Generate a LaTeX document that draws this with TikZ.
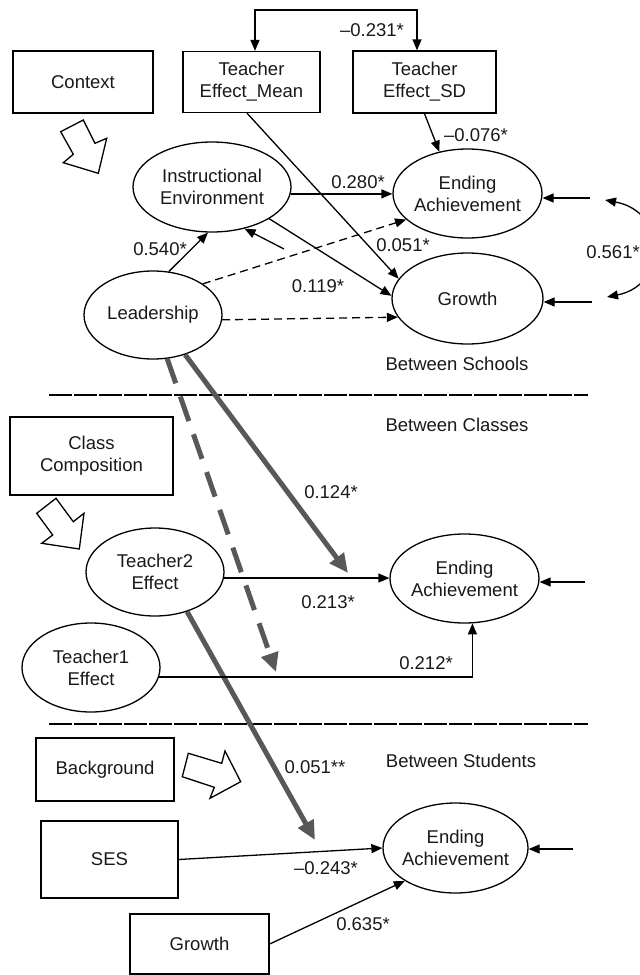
\documentclass[tikz,border=0pt]{standalone}
\usepackage{fontspec}
\setmainfont{Liberation Sans}
\usetikzlibrary{shapes.geometric,arrows.meta}
\definecolor{thickgray}{RGB}{88,88,88}
\definecolor{ink}{RGB}{25,25,25}
\begin{document}
\begin{tikzpicture}[x=1pt,y=-1pt,
  font=\fontsize{18.5}{22}\selectfont,
  every node/.style={text=ink},
  box/.style={draw=black,line width=1.3pt,align=center,inner sep=0pt},
  oval/.style={draw=black,ellipse,line width=1.3pt,align=center,inner xsep=-12pt,inner ysep=0pt},
  arr/.style={line width=1.3pt,-{Triangle[length=11pt,width=9pt]}},
  dblarr/.style={line width=1.3pt,{Triangle[length=11pt,width=9pt]}-{Triangle[length=11pt,width=9pt]}},
  darr/.style={arr,dash pattern=on 8pt off 5pt},
  big/.style={draw=thickgray,line width=5pt,-{Triangle[length=19pt,width=17pt]}},
  sep/.style={line width=1.6pt,dash pattern=on 23pt off 2pt},
  hollow/.style={draw=black,line width=1.3pt,fill=white,line join=miter},
  lab/.style={inner sep=0pt}]
\useasboundingbox (0,0) rectangle (640,975);
\fill[white] (0,0) rectangle (640,975);
\clip (0,0) rectangle (640,975);

% boxes
\node[box,minimum width=140pt,minimum height=62pt] (ctx) at (83,82) {Context};
\node[box,minimum width=137pt,minimum height=61pt] (mean) at (251.5,82) {Teacher\\Effect\_Mean};
\node[box,minimum width=143pt,minimum height=62pt] (sd) at (424.5,82) {Teacher\\Effect\_SD};
\node[box,minimum width=163pt,minimum height=78pt] (cc) at (91.5,456) {Class\\Composition};
\node[box,minimum width=138pt,minimum height=63pt] (bg) at (105,769.5) {Background};
\node[box,minimum width=137pt,minimum height=77pt] (ses) at (109.5,859.5) {SES};
\node[box,minimum width=139pt,minimum height=60pt] (gb) at (199.5,944) {Growth};

% ellipses
\node[oval,minimum width=158pt,minimum height=90pt] (ie) at (212,187) {Instructional\\Environment};
\node[oval,minimum width=149pt,minimum height=89pt] (eas) at (467.5,193.5) {Ending\\Achievement};
\node[oval,minimum width=151pt,minimum height=91pt] (gr) at (467.5,298.5) {Growth};
\node[oval,minimum width=138pt,minimum height=88pt] (lead) at (153,315) {Leadership};
\node[oval,minimum width=138pt,minimum height=88pt] (t2) at (155,572) {Teacher2\\Effect};
\node[oval,minimum width=149pt,minimum height=89pt] (eac) at (464.5,578.5) {Ending\\Achievement};
\node[oval,minimum width=138pt,minimum height=89pt] (t1) at (91,667.5) {Teacher1\\Effect};
\node[oval,minimum width=145pt,minimum height=90pt] (east) at (455.5,848) {Ending\\Achievement};

% block arrows
\draw[hollow] (60.7,131.7) -- (83.3,120) -- (95,143.3) -- (106.7,138.3) -- (98.3,173.3) -- (63.3,162.7) -- (73.3,154.3) -- cycle;
\draw[hollow] (36.7,513.3) -- (56,498.3) -- (73.3,521.7) -- (84,513.3) -- (79.3,549) -- (41.7,543.3) -- (52.7,535) -- cycle;
\draw[hollow] (182.3,776.7) -- (188.3,753.3) -- (221.7,763.3) -- (225,751) -- (240.7,781.7) -- (210,798.3) -- (214.3,787.3) -- cycle;

% separators
\draw[sep] (49,395) -- (588,395);
\draw[sep] (49,724) -- (588,724);

% free-end coordinates
\coordinate (rie) at (284,249);
\coordinate (reas) at (590,198);
\coordinate (rgr) at (592,302);
\coordinate (reac) at (585,582);
\coordinate (reast) at (573,849);
\coordinate (ca) at (605,200);
\coordinate (cb) at (607,297);
\coordinate (m1) at (348,573);
\coordinate (m2) at (276,672);
\coordinate (m3) at (315,840);

% school level connectors
\draw[dblarr] ([xshift=3.5pt]mean.north) -- ++(0,-41) -| ([xshift=-7.5pt]sd.north);
\draw[arr] (sd.south) -- (eas.124);
\draw[arr] ([xshift=-4.5pt]mean.south) -- (gr.164);
\draw[arr] (ie.-5) -- (ie.-5 -| eas.west);
\draw[arr] (ie.-29) -- (gr.178);
\draw[arr] (lead.70) -- (ie.265);
\draw[arr] (rie) -- (ie.-52);
\draw[darr] (lead.32) -- (eas.203);
\draw[darr] (lead.-4) -- (gr.195);
\draw[arr] (reas) -- (reas -| eas.east);
\draw[arr] (rgr) -- (rgr -| gr.east);
\draw[dblarr] (ca) .. controls (668,212) and (668,285) .. (cb);

% thick moderation arrows
\draw[big] (lead.-51) -- (m1);
\draw[big,dash pattern=on 26pt off 14pt] (lead.-72) -- (m2);
\draw[big] (t2.-51) -- (m3);

% class level
\draw[arr] (t2.-5) -- (t2.-5 -| eac.west);
\draw[arr] (t1.-8) -| (eac.-80);
\draw[arr] (reac) -- (reac -| eac.east);

% student level
\draw[arr] (ses.east) -- (east.west);
\draw[arr] (gb.east) -- (east.213);
\draw[arr] (reast) -- (reast -| east.east);

% labels
\node[lab] (l1) at (372,30) {–0.231*};
\node[lab] (l2) at (476,135) {–0.076*};
\node[lab] (l3) at (358,182) {0.280*};
\node[lab] (l4) at (403,245) {0.051*};
\node[lab] (l5) at (318,286) {0.119*};
\node[lab] (l6) at (160,249) {0.540*};
\node[lab] (l7) at (613,252) {0.561*};
\node[lab] (l8) at (457,364) {Between Schools};
\node[lab] (l9) at (457,425) {Between Classes};
\node[lab] (l10) at (331,492) {0.124*};
\node[lab] (l11) at (328,602) {0.213*};
\node[lab] (l12) at (426,663) {0.212*};
\node[lab] (l13) at (461,761) {Between Students};
\node[lab] (l14) at (315,767) {0.051**};
\node[lab] (l15) at (326,868) {–0.243*};
\node[lab] (l16) at (363,924) {0.635*};
\end{tikzpicture}
\end{document}
